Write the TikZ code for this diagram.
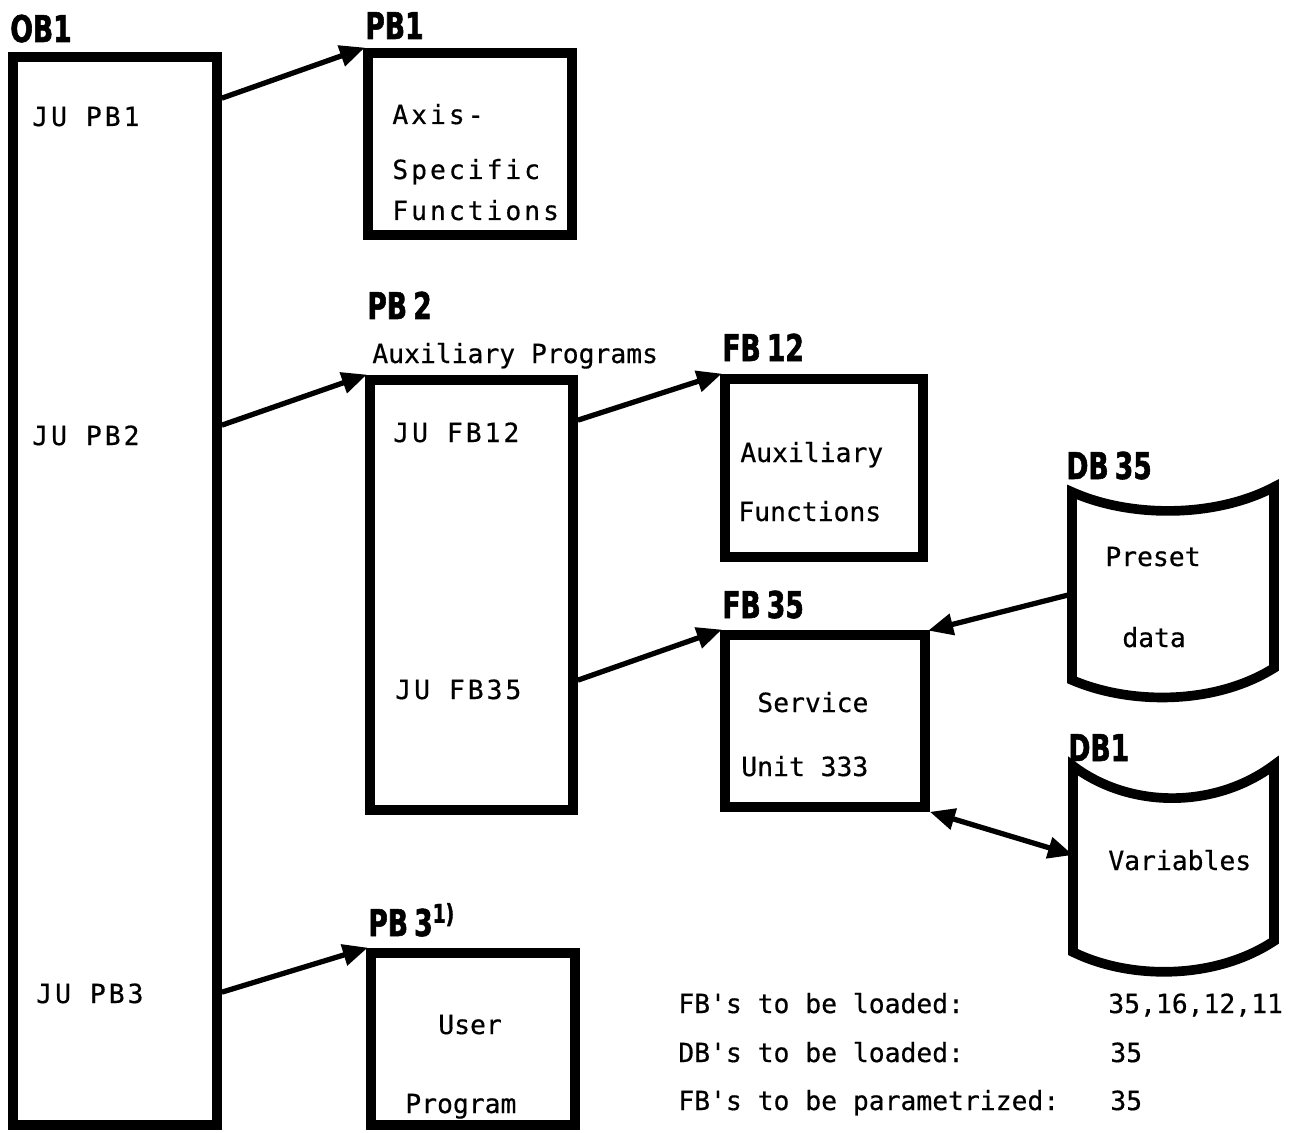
\documentclass[tikz,border=0pt]{standalone}
\usepackage{fontspec}
\setmonofont[FakeBold=0.5]{DejaVu Sans Mono}
\newfontfamily\widemono[LetterSpace=11.3, FakeBold=0.5]{DejaVu Sans Mono}
\newfontfamily\headfont[FakeStretch=0.72, FakeBold=1.5]{DejaVu Sans}
\usetikzlibrary{positioning, arrows.meta, calc}

\begin{document}
\begin{tikzpicture}[
  x=0.2mm, y=-0.2mm,
  blk/.style={draw, line width=5.5pt, inner sep=0pt},
  dbshape/.style={draw, line width=5.5pt, line join=miter},
  hd/.style={anchor=base west, inner sep=0pt, font=\headfont\bfseries\fontsize{21}{21}\selectfont},
  txt/.style={anchor=base west, inner sep=0pt, font=\ttfamily\fontsize{15}{18}\selectfont},
  wtxt/.style={anchor=base west, inner sep=0pt, font=\widemono\fontsize{15}{18}\selectfont},
  flow/.style={-{Triangle[length=5mm, width=4.2mm]}, line width=3pt, shorten >=-1pt},
  dflow/.style={{Triangle[length=5mm, width=4.2mm]}-{Triangle[length=5mm, width=4.2mm]}, line width=3pt}
]
  \useasboundingbox (0,0) rectangle (1294,1132);

  % program blocks
  \node[blk, minimum width=4.08cm, minimum height=21.36cm] (ob1) at (115,591) {};
  \node[blk, minimum width=4.08cm, minimum height=3.64cm]  (pb1) at (470,144) {};
  \node[blk, minimum width=4.06cm, minimum height=8.60cm]  (pb2) at (471.5,595) {};
  \node[blk, minimum width=4.08cm, minimum height=3.44cm]  (pb3) at (473,1039) {};
  \node[blk, minimum width=3.96cm, minimum height=3.56cm]  (fb12) at (824,468) {};
  \node[blk, minimum width=4.00cm, minimum height=3.44cm]  (fb35) at (825,721) {};

  % data blocks
  \draw[dbshape] (1072,492) .. controls (1130,518) and (1215,518) .. (1274,487)
    -- (1274,668) .. controls (1215,705) and (1130,705) .. (1072,680) -- cycle;
  \draw[dbshape] (1073,766) .. controls (1130,809) and (1215,809) .. (1274,765)
    -- (1274,941) .. controls (1215,980) and (1130,980) .. (1073,952) -- cycle;
  \coordinate (db35) at (1072,594);
  \coordinate (db1)  at (1073,855);

  % headings
  \node[hd] (hob1)  at (10,42)    {OB1};
  \node[hd] (hpb1)  at (365,39)   {PB1};
  \node[hd] (hpb2)  at (367,319)  {PB\,2};
  \node[hd] (hfb12) at (722,361)  {FB\,12};
  \node[hd] (hfb35) at (722,618)  {FB\,35};
  \node[hd] (hdb35) at (1066,479) {DB\,35};
  \node[hd] (hdb1)  at (1068,761) {DB1};
  \node[hd] (hpb3)  at (368,936)  {PB\,3\textsuperscript{1)}};

  % texts
  \node[wtxt] (jupb1) at (32,126)   {JU PB1};
  \node[wtxt] (jupb2) at (32,445)   {JU PB2};
  \node[wtxt] (jupb3) at (36,1003)  {JU PB3};
  \node[wtxt] (axis)  at (392,124)  {Axis-};
  \node[wtxt] (spec)  at (392,179)  {Specific};
  \node[wtxt] (func)  at (392,220)  {Functions};
  \node[txt]  (auxp)  at (372,363)  {Auxiliary Programs};
  \node[wtxt] (jufb12) at (393,442) {JU FB12};
  \node[wtxt] (jufb35) at (395,699) {JU FB35};
  \node[txt]  (auxf)  at (740,462)  {Auxiliary};
  \node[txt]  (funcs) at (738,521)  {Functions};
  \node[txt]  (serv)  at (757,712)  {Service};
  \node[txt]  (unit)  at (741,776)  {Unit 333};
  \node[txt]  (pres)  at (1105,566) {Preset};
  \node[txt]  (data)  at (1122,647) {data};
  \node[txt]  (vars)  at (1108,870) {Variables};
  \node[txt]  (user)  at (438,1034) {User};
  \node[txt]  (prog)  at (405,1113) {Program};

  % load list
  \node[txt] (fbl)  at (678,1013)  {FB's to be loaded:};
  \node[txt] (dbl)  at (678,1062)  {DB's to be loaded:};
  \node[txt] (fbp)  at (678,1110)  {FB's to be parametrized:};
  \node[txt] (fblv) at (1108,1013) {35,16,12,11};
  \node[txt] (dblv) at (1110,1062) {35};
  \node[txt] (fbpv) at (1110,1110) {35};

  % calls
  \draw[flow] ($(ob1.north east)+(0,46)$)  -- (pb1.north west);
  \draw[flow] ($(ob1.north east)+(0,373)$) -- (pb2.north west);
  \draw[flow] ($(ob1.north east)+(0,940)$) -- (pb3.north west);
  \draw[flow] ($(pb2.north east)+(0,45)$)  -- (fb12.north west);
  \draw[flow] ($(pb2.north east)+(0,305)$) -- (fb35.north west);
  \draw[flow] (db35) -- (fb35.north east);
  \draw[dflow] (fb35.south east) -- (db1);
\end{tikzpicture}
\end{document}
